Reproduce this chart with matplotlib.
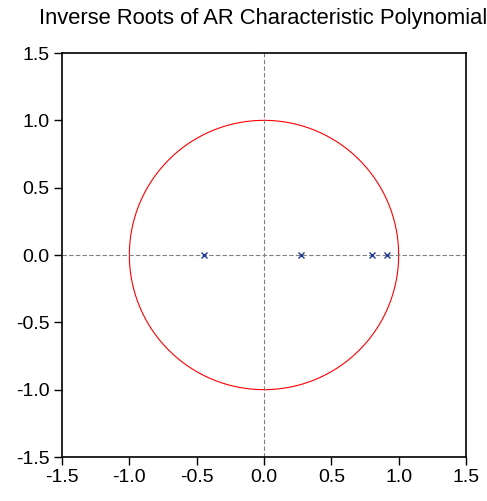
import numpy as np
import matplotlib.pyplot as plt

# inverse roots (real parts, imaginary parts)
roots_re = [-0.445, 0.272, 0.800, 0.915]
roots_im = [0.0, 0.0, 0.0, 0.0]
ticks = [-1.5, -1.0, -0.5, 0.0, 0.5, 1.0, 1.5]

plt.rcParams['font.family'] = ['Liberation Sans', 'DejaVu Sans']

fig = plt.figure(figsize=(4.87, 5.01), dpi=100)
ax = fig.add_axes([62/487, 1 - 457/501, 404/487, 404/501])

# unit circle
t = np.linspace(0, 2*np.pi, 400)
ax.plot(np.cos(t), np.sin(t), color='#ff0000', lw=0.8)

ax.axhline(0, color='#808080', lw=0.8, ls=(0, (4, 2)))
ax.axvline(0, color='#808080', lw=0.8, ls=(0, (4, 2)))

ax.plot(roots_re, roots_im, 'x', color='#1f3a93', ms=4, mew=1.0, ls='none')

ax.set_xlim(-1.5, 1.5)
ax.set_ylim(-1.5, 1.5)
ax.set_xticks(ticks)
ax.set_yticks(ticks)
ax.set_xticklabels([f'{v:.1f}' for v in ticks])
ax.set_yticklabels([f'{v:.1f}' for v in ticks])
ax.tick_params(direction='out', length=6, width=1, labelsize=14, top=False, right=False, pad=3)
for s in ax.spines.values():
    s.set_linewidth(1.2)

fig.text(0.54, 0.964, 'Inverse Roots of AR Characteristic Polynomial', ha='center', va='center', fontsize=15.8)

plt.savefig('out.png', dpi=100)
